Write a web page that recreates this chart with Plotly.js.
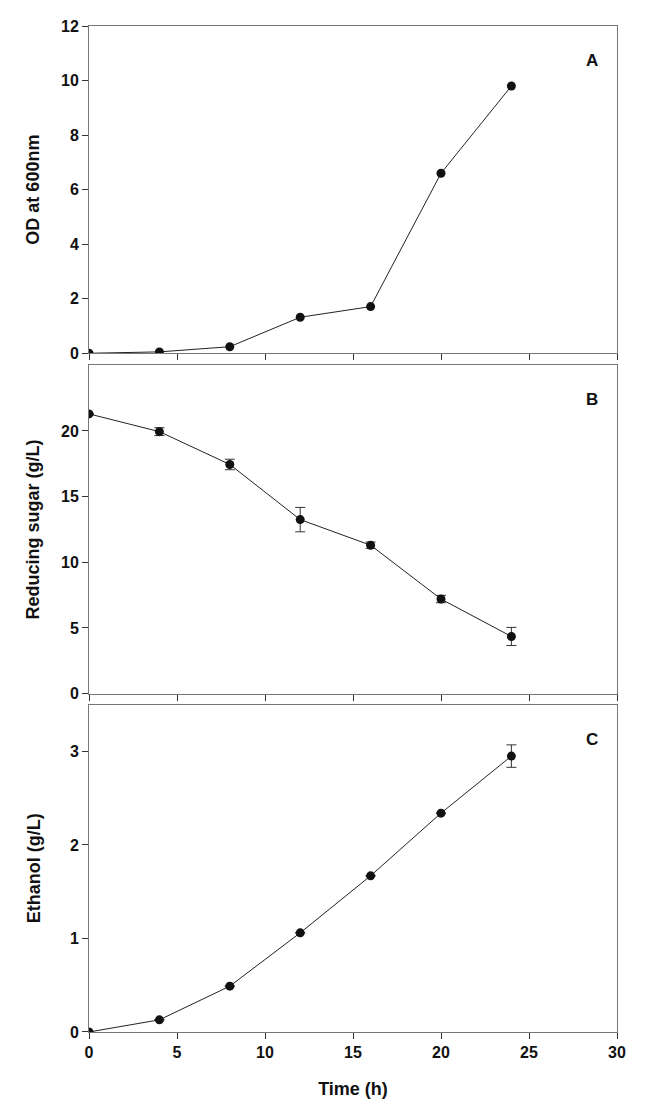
<!DOCTYPE html>
<html><head><meta charset="utf-8">
<script src="https://cdn.plot.ly/plotly-3.0.1.min.js"></script>
<style>html,body{margin:0;padding:0;background:#fff}#c{width:652px;height:1112px}</style>
</head><body><div id="c"></div>
<script>
const time = [0, 4, 8, 12, 16, 20, 24];
const od600 = [0, 0.05, 0.24, 1.32, 1.71, 6.6, 9.8];
const sugar = [21.3, 19.95, 17.45, 13.25, 11.3, 7.2, 4.35];
const sugarErr = [0, 0.3, 0.4, 0.93, 0.24, 0.28, 0.69];
const ethanol = [0, 0.13, 0.49, 1.06, 1.67, 2.34, 2.95];
const ethanolErr = [0, 0, 0, 0, 0, 0, 0.12];
const xTicks = [0, 5, 10, 15, 20, 25, 30];
const panelLabels = ['A', 'B', 'C'];
const yTitles = ['OD at 600nm', 'Reducing sugar (g/L)', 'Ethanol (g/L)'];

const fam = 'Liberation Sans, Arial, sans-serif';
const font = {family: fam, size: 16, color: '#111', weight: 'bold'};
const tfont = {family: fam, size: 18, color: '#111', weight: 'bold'};
const mk = {color: '#111', size: 9};
const ln = {color: '#222', width: 1};
const eb = (arr) => ({type: 'data', array: arr, visible: true, color: '#333', thickness: 1, width: 5});

const traces = [
  {x: time, y: od600, xaxis: 'x', yaxis: 'y', mode: 'lines+markers', marker: mk, line: ln},
  {x: time, y: sugar, xaxis: 'x2', yaxis: 'y2', mode: 'lines+markers', marker: mk, line: ln, error_y: eb(sugarErr)},
  {x: time, y: ethanol, xaxis: 'x3', yaxis: 'y3', mode: 'lines+markers', marker: mk, line: ln, error_y: eb(ethanolErr)}
];

const xBase = (anchor, labels) => ({
  anchor: anchor, range: [0, 30], tickvals: xTicks, ticks: 'outside', ticklen: 6, tickcolor: '#333',
  showline: true, linecolor: '#777', linewidth: 1, mirror: true, showgrid: false, zeroline: false,
  showticklabels: labels, tickfont: font
});
const yBase = (anchor, dom, range, ticks, title, standoff) => ({
  anchor: anchor, domain: dom, range: range, tickvals: ticks, ticks: 'outside', ticklen: 6, tickcolor: '#333',
  showline: true, linecolor: '#777', linewidth: 1, mirror: true, showgrid: false, zeroline: false,
  tickfont: font, title: {text: title, font: tfont, standoff: standoff}
});

const layout = {
  width: 652, height: 1112,
  margin: {l: 89, r: 35, t: 26, b: 80},
  paper_bgcolor: '#fff', plot_bgcolor: '#fff',
  showlegend: false,
  xaxis: xBase('y', false),
  xaxis2: xBase('y2', false),
  xaxis3: Object.assign(xBase('y3', true), {title: {text: 'Time (h)', font: tfont, standoff: 22}}),
  yaxis: yBase('x', [0.6747, 1], [0, 12], [0, 2, 4, 6, 8, 10, 12], yTitles[0], 16),
  yaxis2: yBase('x2', [0.3364, 0.6627], [0, 25], [0, 5, 10, 15, 20], yTitles[1], 16),
  yaxis3: yBase('x3', [0, 0.3254], [0, 3.5], [0, 1, 2, 3], yTitles[2], 24),
  annotations: panelLabels.map((t, i) => ({
    text: t, xref: (i === 0 ? 'x' : 'x' + (i + 1)) + ' domain', yref: (i === 0 ? 'y' : 'y' + (i + 1)) + ' domain',
    x: 0.967, y: 0.93, showarrow: false, font: {family: fam, size: 17, color: '#111', weight: 'bold'}
  }))
};

Plotly.newPlot('c', traces, layout, {displayModeBar: false, staticPlot: true});
</script></body></html>
